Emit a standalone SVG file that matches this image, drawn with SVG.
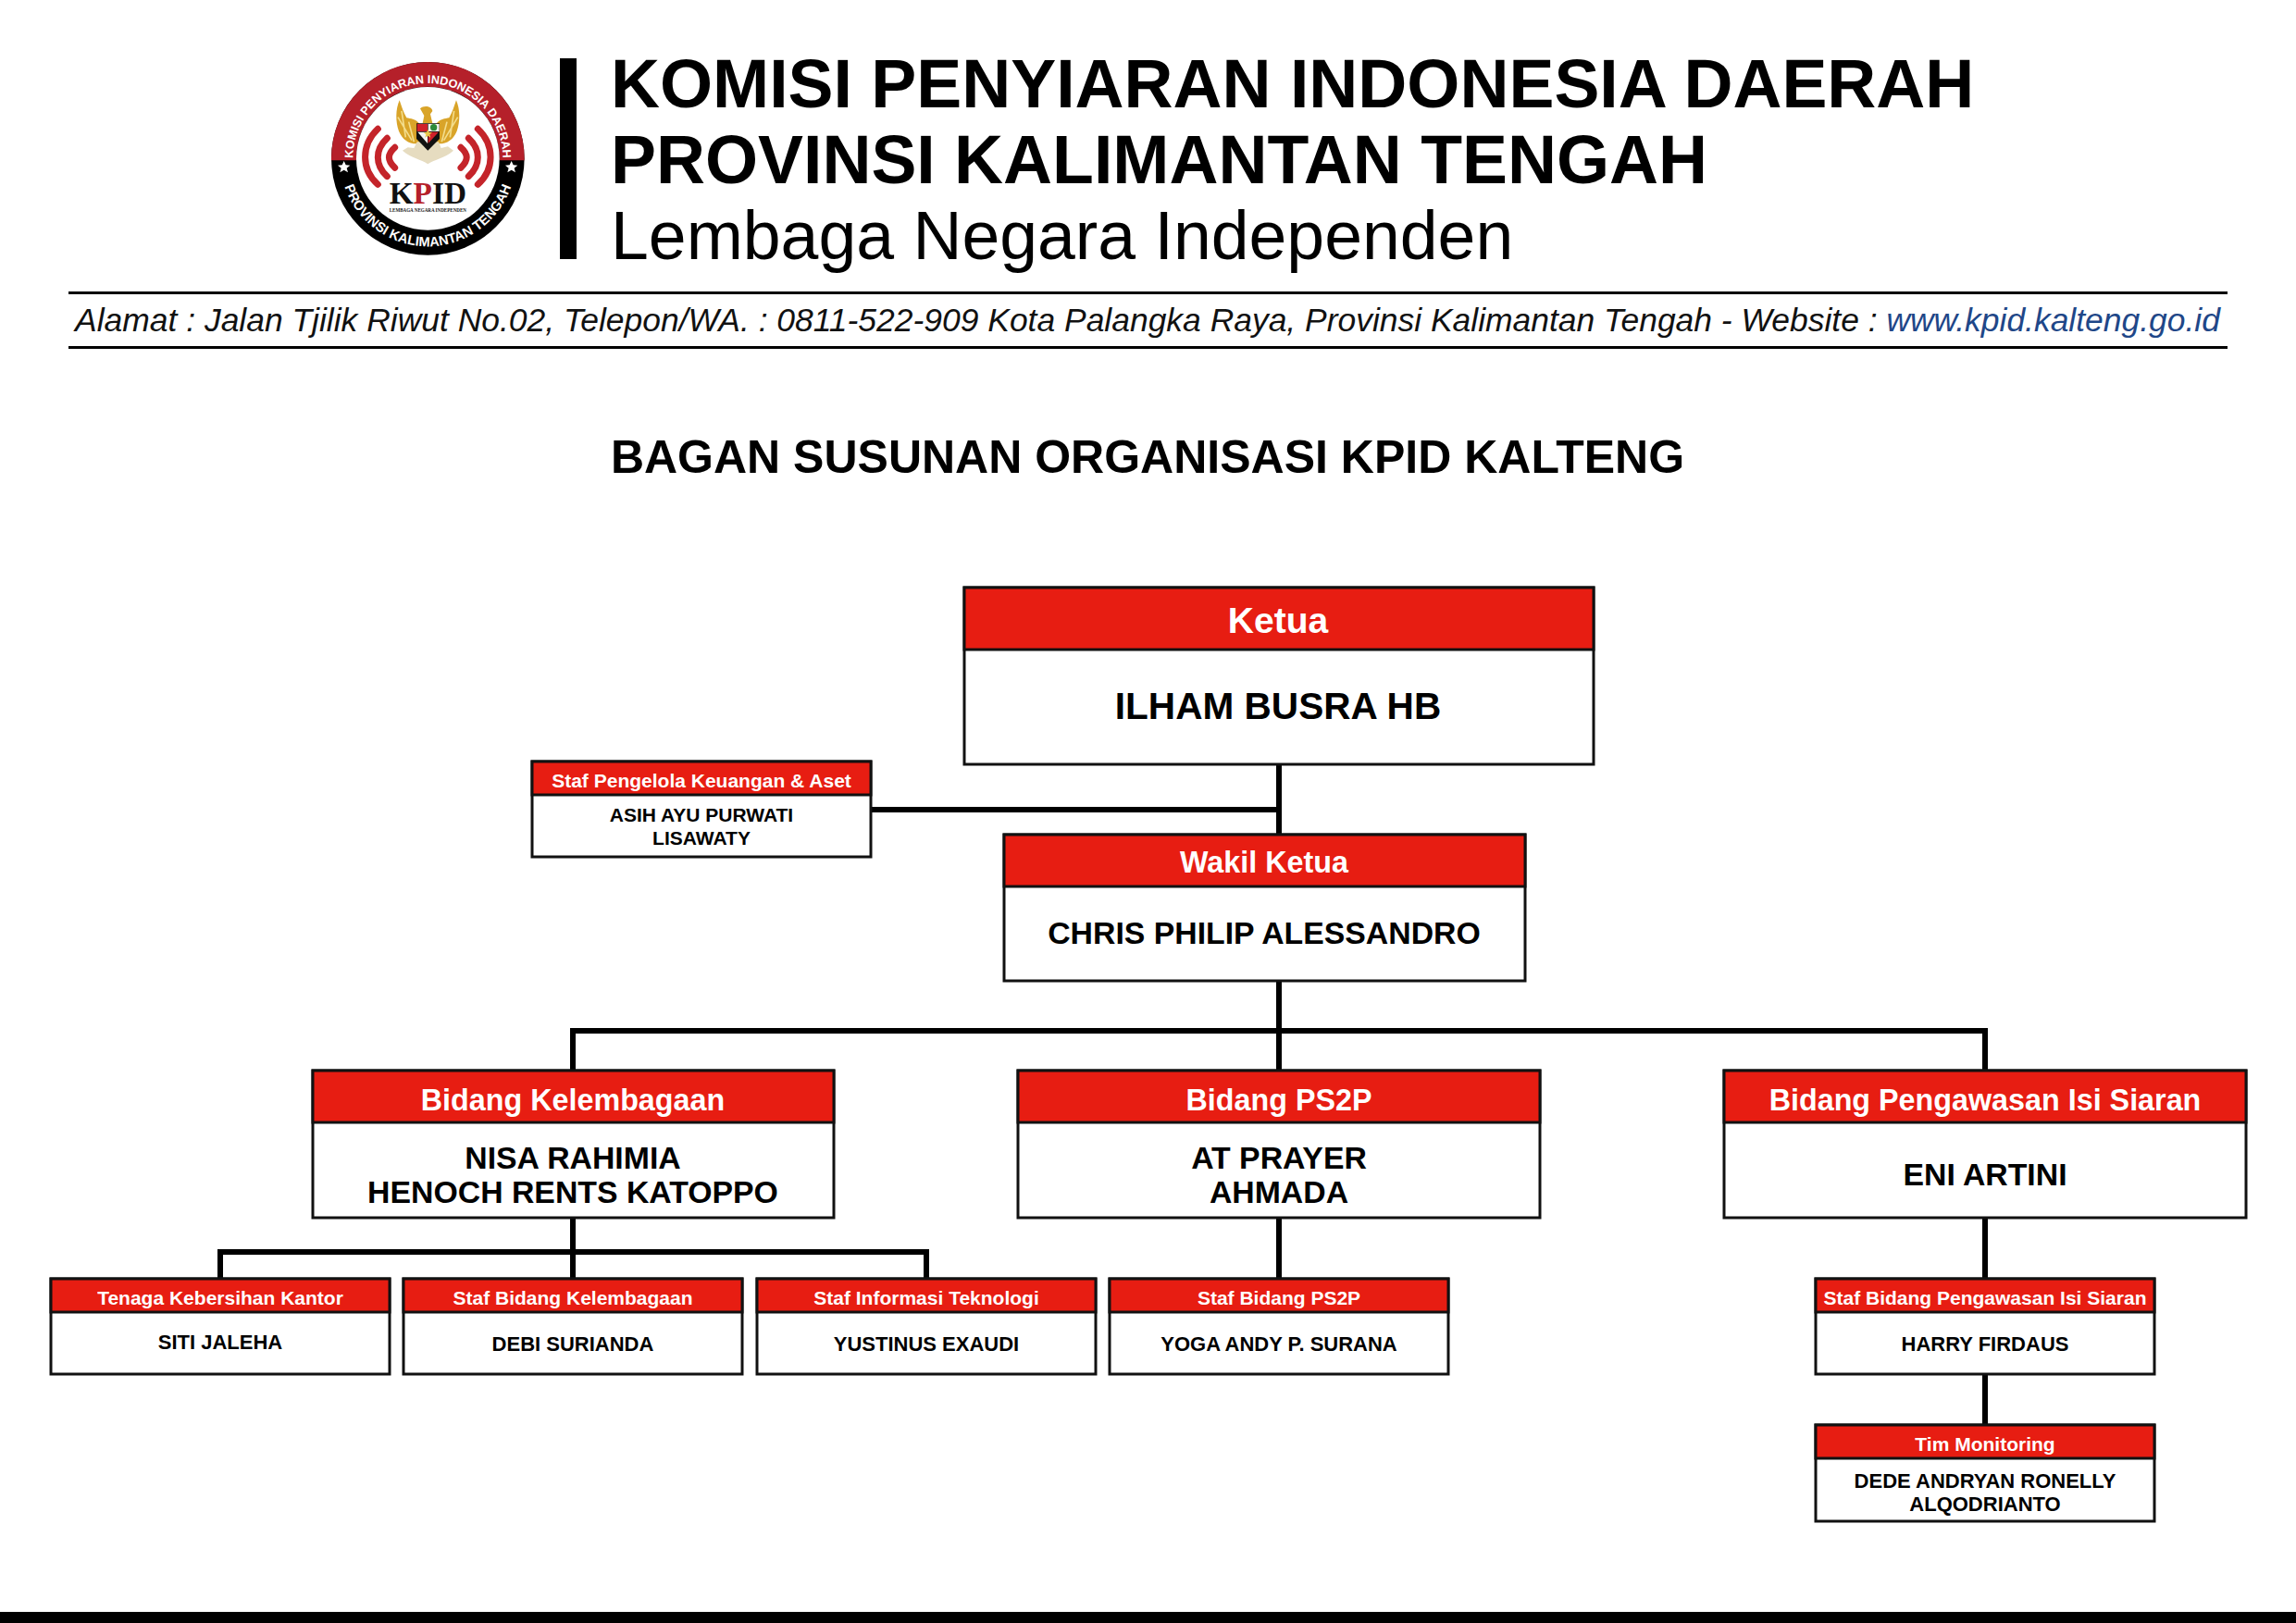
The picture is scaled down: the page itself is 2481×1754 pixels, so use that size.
<svg xmlns="http://www.w3.org/2000/svg" width="2481" height="1754" viewBox="0 0 2481 1754">
<style>
text{font-family:"Liberation Sans",Arial,sans-serif;text-anchor:middle}
.box{fill:#fff;stroke:#111;stroke-width:3}
.hd{fill:#e71d12;stroke:#111;stroke-width:3}
.conn{fill:none;stroke:#000;stroke-width:6}
.w{fill:#fff;font-weight:700}
.k{fill:#000;font-weight:700}
.f38{font-size:39px}.f41{font-size:40.6px}.f32{font-size:32.3px}.f35{font-size:33.8px}.f21{font-size:21px}.f22{font-size:22px}
.t{fill:#000;font-weight:700;font-size:73.4px;text-anchor:start}
.wave{fill:none;stroke:#c4242a;stroke-width:21;stroke-linecap:round}
.ring{fill:#fff;font-weight:700}
</style>
<defs>
<path id="arcTop" d="M 155 415 A 243 243 0 1 1 639 415"/>
<path id="arcBot" d="M 112 394 A 285 285 0 0 0 682 394"/>
<g id="wing"><path d="M305 205 C292 235 292 275 303 305 C315 335 340 350 372 345 L372 285 C360 265 340 265 328 262 C318 245 312 225 305 205Z" fill="#d9a429"/><path d="M312 240 L325 325 M300 260 L345 335 M335 275 L352 340" stroke="#f3dd8c" stroke-width="5" fill="none"/></g>
</defs>
<rect width="2481" height="1754" fill="#fff"/>
<g id="logo" transform="translate(330,40) scale(.3333)">
<circle cx="397" cy="394" r="313" fill="#000"/>
<path d="M84.06 400 A313 313 0 1 1 709.94 400 L628.9 400 A232 232 0 1 0 165.1 400Z" fill="#b5202a"/>
<circle cx="397" cy="394" r="232" fill="#fff"/>
<text class="ring" style="font-size:38px"><textPath href="#arcTop" startOffset="50%">KOMISI PENYIARAN INDONESIA DAERAH</textPath></text>
<text class="ring" style="font-size:44px"><textPath href="#arcBot" startOffset="50%">PROVINSI KALIMANTAN TENGAH</textPath></text>
<path d="M125 402l6 13 14 1-11 9 4 14-13-8-13 8 4-14-11-9 14-1z" fill="#fff"/>
<path d="M668 402l6 13 14 1-11 9 4 14-13-8-13 8 4-14-11-9 14-1z" fill="#fff"/>
<path class="wave" d="M235 298 C180 350 180 430 235 478"/>
<path class="wave" d="M265 328 C225 365 225 415 265 452"/>
<path class="wave" d="M290 358 C265 380 265 400 290 424"/>
<path class="wave" d="M559 298 C614 350 614 430 559 478"/>
<path class="wave" d="M529 328 C569 365 569 415 529 452"/>
<path class="wave" d="M504 358 C529 380 529 400 504 424"/>
<use href="#wing"/><use href="#wing" transform="translate(794,0) scale(-1,1)"/>
<path d="M372 232 C385 220 410 225 412 240 L405 250 L412 280 L380 280 L385 255Z" fill="#d9a429"/>
<path d="M315 368 C345 395 375 395 397 412 C420 395 450 395 480 368 L462 355 L440 360 L432 340 L362 340 L352 360 L332 358Z" fill="#e6dcc0"/>
<path d="M360 280 H435 V330 L397 368 L360 330Z" fill="#111"/>
<rect x="362" y="282" width="34" height="24" fill="#d0202a"/>
<rect x="398" y="282" width="36" height="24" fill="#f4f4f0"/>
<circle cx="416" cy="293" r="11" fill="#2c8a3a"/>
<path d="M364 308 H396 V345Z" fill="#f4f4f0"/><path d="M398 345 V308 H432 Z" fill="#d0202a"/>
<path d="M397 300l4 9 10 1-8 6 3 10-9-6-9 6 3-10-8-6 10-1z" fill="#e8c84a"/>
<text x="397" y="540" style="font-family:'Liberation Serif',serif;font-weight:700;font-size:102px" fill="#111" textLength="250" lengthAdjust="spacingAndGlyphs">K<tspan fill="#b5202a">P</tspan>ID</text>
<text x="397" y="566" style="font-family:'Liberation Serif',serif;font-size:17px;font-weight:700" fill="#222" textLength="250" lengthAdjust="spacingAndGlyphs">LEMBAGA NEGARA INDEPENDEN</text>
</g>
<g id="header">
<rect x="605" y="63" width="18" height="217" fill="#000"/>
<text class="t" x="660" y="116">KOMISI PENYIARAN INDONESIA DAERAH</text>
<text class="t" x="660" y="198">PROVINSI KALIMANTAN TENGAH</text>
<text class="t" x="660" y="280" style="font-weight:400">Lembaga Negara Independen</text>
<rect x="74" y="315" width="2333" height="3" fill="#000"/>
<text x="1240" y="358" style="font-size:35.45px;font-style:italic"><tspan fill="#111">Alamat : Jalan Tjilik Riwut No.02, Telepon/WA. : 0811-522-909 Kota Palangka Raya, Provinsi Kalimantan Tengah - Website : </tspan><tspan fill="#1f4788">www.kpid.kalteng.go.id</tspan></text>
<rect x="74" y="374" width="2333" height="3" fill="#000"/>
<text x="1240" y="511" class="k" style="font-size:50px">BAGAN SUSUNAN ORGANISASI KPID KALTENG</text>
</g>
<g id="connectors">
<path class="conn" d="M1382 827V901"/>
<path class="conn" d="M941 875H1382"/>
<path class="conn" d="M1382 1061V1156"/>
<path class="conn" d="M619 1156V1114H2145V1156"/>
<path class="conn" d="M619 1316V1381"/>
<path class="conn" d="M238 1381V1353H1001V1381"/>
<path class="conn" d="M1382 1316V1381"/>
<path class="conn" d="M2145 1316V1381"/>
<path class="conn" d="M2145 1485V1539"/>
</g>
<g id="ketua"><rect class="box" x="1042" y="635" width="680" height="191"/><rect class="hd" x="1042" y="635" width="680" height="67"/><text class="w f38" x="1381" y="684">Ketua</text><text class="k f41" x="1381" y="777">ILHAM BUSRA HB</text></g>
<g id="staf-keuangan"><rect class="box" x="575" y="823" width="366" height="103"/><rect class="hd" x="575" y="823" width="366" height="36"/><text class="w f21" x="758" y="851">Staf Pengelola Keuangan &amp; Aset</text><text class="k" style="font-size:21px" x="758" y="888">ASIH AYU PURWATI</text><text class="k" style="font-size:21px" x="758" y="913">LISAWATY</text></g>
<g id="wakil"><rect class="box" x="1085" y="902" width="563" height="158"/><rect class="hd" x="1085" y="902" width="563" height="56"/><text class="w f32" x="1366" y="943">Wakil Ketua</text><text class="k f35" x="1366" y="1020">CHRIS PHILIP ALESSANDRO</text></g>
<g id="bidang-kelembagaan"><rect class="box" x="338" y="1157" width="563" height="159"/><rect class="hd" x="338" y="1157" width="563" height="56"/><text class="w f32" x="619" y="1200">Bidang Kelembagaan</text><text class="k f35" x="619" y="1263">NISA RAHIMIA</text><text class="k f35" x="619" y="1300">HENOCH RENTS KATOPPO</text></g>
<g id="bidang-ps2p"><rect class="box" x="1100" y="1157" width="564" height="159"/><rect class="hd" x="1100" y="1157" width="564" height="56"/><text class="w f32" x="1382" y="1200">Bidang PS2P</text><text class="k f35" x="1382" y="1263">AT PRAYER</text><text class="k f35" x="1382" y="1300">AHMADA</text></g>
<g id="bidang-pengawasan"><rect class="box" x="1863" y="1157" width="564" height="159"/><rect class="hd" x="1863" y="1157" width="564" height="56"/><text class="w f32" x="2145" y="1200">Bidang Pengawasan Isi Siaran</text><text class="k f35" x="2145" y="1281">ENI ARTINI</text></g>
<g id="tenaga-kebersihan"><rect class="box" x="55" y="1382" width="366" height="103"/><rect class="hd" x="55" y="1382" width="366" height="36"/><text class="w f21" x="238" y="1410">Tenaga Kebersihan Kantor</text><text class="k f22" x="238" y="1458">SITI JALEHA</text></g>
<g id="staf-kelembagaan"><rect class="box" x="436" y="1382" width="366" height="103"/><rect class="hd" x="436" y="1382" width="366" height="36"/><text class="w f21" x="619" y="1410">Staf Bidang Kelembagaan</text><text class="k f22" x="619" y="1460">DEBI SURIANDA</text></g>
<g id="staf-informasi"><rect class="box" x="818" y="1382" width="366" height="103"/><rect class="hd" x="818" y="1382" width="366" height="36"/><text class="w f21" x="1001" y="1410">Staf Informasi Teknologi</text><text class="k f22" x="1001" y="1460">YUSTINUS EXAUDI</text></g>
<g id="staf-ps2p"><rect class="box" x="1199" y="1382" width="366" height="103"/><rect class="hd" x="1199" y="1382" width="366" height="36"/><text class="w f21" x="1382" y="1410">Staf Bidang PS2P</text><text class="k f22" x="1382" y="1460">YOGA ANDY P. SURANA</text></g>
<g id="staf-pengawasan"><rect class="box" x="1962" y="1382" width="366" height="103"/><rect class="hd" x="1962" y="1382" width="366" height="36"/><text class="w f21" x="2145" y="1410">Staf Bidang Pengawasan Isi Siaran</text><text class="k f22" x="2145" y="1460">HARRY FIRDAUS</text></g>
<g id="tim-monitoring"><rect class="box" x="1962" y="1540" width="366" height="104"/><rect class="hd" x="1962" y="1540" width="366" height="36"/><text class="w f21" x="2145" y="1568">Tim Monitoring</text><text class="k f22" x="2145" y="1608">DEDE ANDRYAN RONELLY</text><text class="k f22" x="2145" y="1633">ALQODRIANTO</text></g>
<rect id="footer-bar" x="0" y="1742" width="2481" height="12" fill="#000"/>
</svg>
